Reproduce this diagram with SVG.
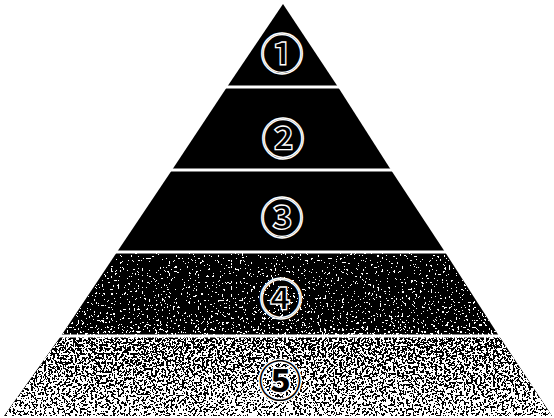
<svg xmlns="http://www.w3.org/2000/svg" width="554" height="418" viewBox="0 0 554 418">
<style>
.num{font-family:"Noto Sans CJK JP","DejaVu Sans",sans-serif;font-size:43px;font-weight:bold;text-anchor:middle;dominant-baseline:central}
.onDark{fill:#000;stroke:#fff;stroke-width:1.3}
.onLight{fill:#000;stroke:#fff;stroke-width:3;paint-order:stroke}
.gap{stroke:#fff;stroke-width:3}
</style>
<defs>
<linearGradient id="g4" x1="0" y1="0" x2="0" y2="1">
<stop offset="0" stop-color="#505050"/>
<stop offset="0.75" stop-color="#565656"/>
<stop offset="1" stop-color="#626262"/>
</linearGradient>
<linearGradient id="g5" x1="0" y1="0" x2="0" y2="1">
<stop offset="0" stop-color="#7a7a7a"/>
<stop offset="0.5" stop-color="#848484"/>
<stop offset="1" stop-color="#8e8e8e"/>
</linearGradient>
<filter id="speck" x="0" y="0" width="1" height="1" color-interpolation-filters="sRGB">
<feTurbulence type="fractalNoise" baseFrequency="0.45" numOctaves="2" seed="4" result="t"/>
<feColorMatrix in="t" type="matrix" values="1 0 0 0 0  1 0 0 0 0  1 0 0 0 0  0 0 0 0 1" result="g"/>
<feComposite in="g" in2="SourceGraphic" operator="arithmetic" k1="0" k2="1" k3="1" k4="-0.5" result="s"/>
<feComponentTransfer in="s" result="d">
<feFuncR type="discrete" tableValues="0 0 0 0 0 1 1 1 1 1"/>
<feFuncG type="discrete" tableValues="0 0 0 0 0 1 1 1 1 1"/>
<feFuncB type="discrete" tableValues="0 0 0 0 0 1 1 1 1 1"/>
<feFuncA type="linear" slope="0" intercept="1"/>
</feComponentTransfer>
<feComposite in="d" in2="SourceAlpha" operator="in"/>
</filter>
</defs>
<rect width="554" height="418" fill="#fff"/>
<g id="level1">
<polygon points="283,4 338,87 227,87" fill="#000"/>
<text class="num onDark" x="282" y="51">①</text>
</g>
<g id="level2">
<polygon points="227,87 338,87 391,170 172,170" fill="#000"/>
<text class="num onDark" x="283" y="136">②</text>
</g>
<g id="level3">
<polygon points="172,170 391,170 445,252 117,252" fill="#000"/>
<text class="num onDark" x="282" y="215">③</text>
</g>
<g id="level4">
<polygon points="117,252 445,252 499,336 61,336" fill="url(#g4)" filter="url(#speck)"/>
<text class="num onDark" x="281" y="296">④</text>
</g>
<g id="level5">
<polygon points="61,336 499,336 552,416 4,416" fill="url(#g5)" filter="url(#speck)"/>
<text class="num onLight" x="280" y="378">⑤</text>
</g>
<g id="connectors">
<line class="gap" x1="0" y1="87" x2="554" y2="87"/>
<line class="gap" x1="0" y1="170" x2="554" y2="170"/>
<line class="gap" x1="0" y1="252" x2="554" y2="252"/>
<line class="gap" x1="0" y1="336" x2="554" y2="336"/>
</g>
</svg>
